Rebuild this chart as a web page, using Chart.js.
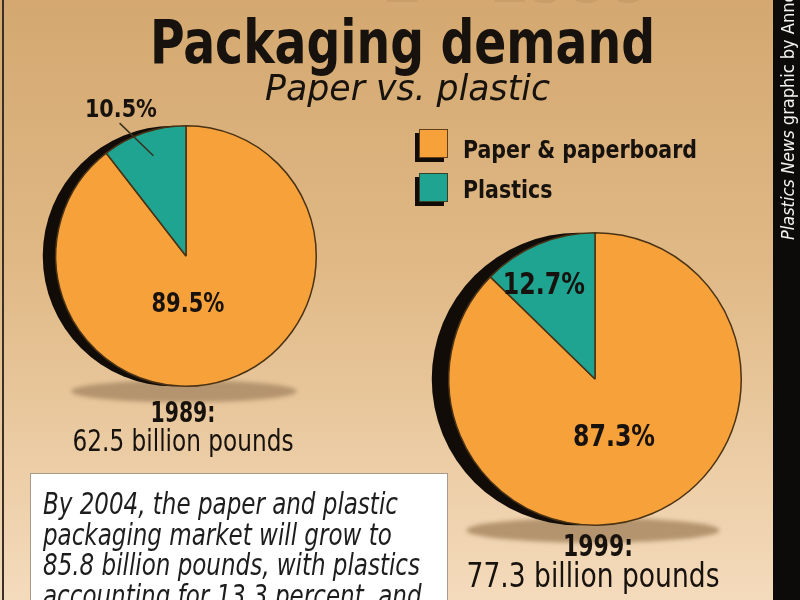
<!DOCTYPE html>
<html>
<head>
<meta charset="utf-8">
<script src="https://cdn.jsdelivr.net/npm/chart.js@4.4.1/dist/chart.umd.min.js"></script>
<style>
  html, body { margin: 0; padding: 0; width: 800px; height: 600px; overflow: hidden; background: #e2bc8c; }
  canvas { position: absolute; left: 0; top: 0; }
</style>
</head>
<body>
<canvas id="pie1989" width="800" height="600"></canvas>
<canvas id="pie1999" width="800" height="600"></canvas>
<script>
// Chart data
const categories = ['Paper & paperboard', 'Plastics'];
const share1989 = [89.5, 10.5];
const share1999 = [87.3, 12.7];
const yearLabels = ['1989:', '1999:'];
const totalLabels = ['62.5 billion pounds', '77.3 billion pounds'];
const sliceColors = ['#F7A13B', '#1FA492'];
const noteLines = [
    'By 2004, the paper and plastic',
    'packaging market will grow to',
    '85.8 billion pounds, with plastics',
    'accounting for 13.3 percent, and'
];

const INK = '#17120d';
const FACE = '"Liberation Sans Narrow", "DejaVu Sans Condensed", "Liberation Sans", sans-serif';

function font(style, size) {
    return style + ' ' + size + 'px ' + FACE;
}

// horizontal scale that makes `text` exactly `width` wide
function scaleFor(ctx, text, fnt, width) {
    ctx.save();
    ctx.font = fnt;
    const w = ctx.measureText(text).width;
    ctx.restore();
    return width / w;
}

function drawText(ctx, text, x, y, fnt, sx, align, color) {
    ctx.save();
    ctx.font = fnt;
    ctx.fillStyle = color || INK;
    ctx.textAlign = 'left';
    ctx.textBaseline = 'alphabetic';
    const w = ctx.measureText(text).width * sx;
    let left = x;
    if (align === 'center') left = x - w / 2;
    if (align === 'right') left = x - w;
    ctx.translate(left, y);
    ctx.scale(sx, 1);
    ctx.fillText(text, 0, 0);
    ctx.restore();
    return w;
}

function fitText(ctx, text, x, y, width, fnt, align, color) {
    drawText(ctx, text, x, y, fnt, scaleFor(ctx, text, fnt, width), align, color);
}

/**
 * Page furniture: background, headings, legend, note box, credit strip
 */
const pageDecor = {
    id: 'pageDecor',
    beforeDraw(chart) {
        const ctx = chart.ctx;
        ctx.save();

        const g = ctx.createLinearGradient(0, 0, 0, 600);
        g.addColorStop(0, '#D4A870');
        g.addColorStop(0.45, '#E0B986');
        g.addColorStop(1, '#F4DBBC');
        ctx.fillStyle = g;
        ctx.fillRect(0, 0, 800, 600);

        // left rule
        ctx.fillStyle = '#3b3026';
        ctx.fillRect(2, 0, 2, 600);

        // faded, cut-off heading above the title
        fitText(ctx, '1 - 1999', 380, 2, 273, font('bold', 70), 'left', 'rgba(175,135,85,0.3)');

        fitText(ctx, 'Packaging demand', 150, 63, 505, font('bold', 60), 'left');
        fitText(ctx, 'Paper vs. plastic', 265, 100, 285, font('italic', 35), 'left');

        // legend
        const legendFont = font('bold', 24);
        const legendScale = scaleFor(ctx, categories[0], legendFont, 234);
        categories.forEach((name, i) => {
            const top = 129 + i * 44;
            ctx.fillStyle = '#120c08';
            ctx.fillRect(415, top + 4, 29, 29);
            ctx.fillStyle = sliceColors[i];
            ctx.fillRect(419, top, 29, 29);
            ctx.strokeStyle = 'rgba(60,40,15,0.8)';
            ctx.lineWidth = 1;
            ctx.strokeRect(419.5, top + 0.5, 28, 28);
            drawText(ctx, name, 463, 158 + i * 40, legendFont, legendScale, 'left');
        });

        // note box
        ctx.fillStyle = '#ffffff';
        ctx.fillRect(30, 473, 417, 150);
        ctx.strokeStyle = '#a89a8a';
        ctx.lineWidth = 1;
        ctx.strokeRect(30.5, 473.5, 417, 150);
        const noteFont = font('italic', 30);
        const noteScale = scaleFor(ctx, noteLines[2], noteFont, 377);
        noteLines.forEach((line, i) => {
            drawText(ctx, line, 43, 514 + i * 30.5, noteFont, noteScale, 'left', '#1d1d1d');
        });

        // credit strip
        ctx.fillStyle = '#0d0b0a';
        ctx.fillRect(773, 0, 27, 600);
        ctx.translate(794, 240);
        ctx.rotate(-Math.PI / 2);
        ctx.fillStyle = '#f2f2f2';
        ctx.font = font('italic', 18);
        ctx.textBaseline = 'alphabetic';
        const w1 = ctx.measureText('Plastics News').width;
        ctx.fillText('Plastics News', 0, 0);
        ctx.font = font('normal', 18);
        ctx.fillText(' graphic by Annette McCauley', w1, 0);

        ctx.restore();
    }
};

/**
 * Per-pie decoration: floor shadow, black rim, slice labels, caption
 */
const pieDecor = {
    id: 'pieDecor',
    beforeDatasetsDraw(chart, args, opts) {
        const ctx = chart.ctx;
        const arc = chart.getDatasetMeta(0).data[0];
        const { x, y, outerRadius: r } = arc.getProps(['x', 'y', 'outerRadius'], true);
        ctx.save();
        ctx.filter = 'blur(2px)';
        ctx.fillStyle = '#b3946e';
        ctx.beginPath();
        ctx.ellipse(x - 2, y + r + 5, r * 0.865, r * 0.085, 0, 0, Math.PI * 2);
        ctx.fill();
        ctx.filter = 'none';
        ctx.fillStyle = '#120c08';
        ctx.beginPath();
        ctx.arc(x - opts.rimShift, y, r, 0, Math.PI * 2);
        ctx.fill();
        ctx.restore();
    },
    afterDatasetsDraw(chart, args, opts) {
        const ctx = chart.ctx;
        const arc = chart.getDatasetMeta(0).data[0];
        const { x, y, outerRadius: r } = arc.getProps(['x', 'y', 'outerRadius'], true);
        const values = chart.data.datasets[0].data;
        ctx.save();

        opts.labels.forEach(l => {
            fitText(ctx, values[l.index] + '%', x + l.dx * r, y + l.dy * r,
                    l.width, font('bold', l.size), 'center');
        });

        if (opts.leader) {
            ctx.strokeStyle = '#3a3020';
            ctx.lineWidth = 1.5;
            ctx.beginPath();
            ctx.moveTo(x + opts.leader[0] * r, y + opts.leader[1] * r);
            ctx.lineTo(x + opts.leader[2] * r, y + opts.leader[3] * r);
            ctx.stroke();
        }

        const c = opts.caption;
        fitText(ctx, c.year, x + c.yearDx, y + r + c.yearDy, c.yearWidth, font('bold', c.yearSize), 'center');
        fitText(ctx, c.total, x + c.totalDx, y + r + c.totalDy, c.totalWidth, font('normal', c.totalSize), 'center');

        ctx.restore();
    }
};

function makePie(canvasId, values, padding, decor, extraPlugins) {
    return new Chart(document.getElementById(canvasId), {
        type: 'pie',
        data: {
            labels: categories,
            datasets: [{
                data: values,
                backgroundColor: sliceColors,
                borderColor: '#4a3214',
                borderWidth: 1.5,
                hoverOffset: 0
            }]
        },
        options: {
            responsive: false,
            animation: false,
            events: [],
            layout: { padding: padding },
            plugins: {
                legend: { display: false },
                tooltip: { enabled: false },
                pieDecor: decor
            }
        },
        plugins: extraPlugins.concat([pieDecor])
    });
}

makePie('pie1989', share1989,
    { left: 55, top: 125, right: 483, bottom: 213 },
    {
        rimShift: 13,
        labels: [
            { index: 0, dx: 0.015, dy: 0.43, size: 27, width: 73 },
            { index: 1, dx: -0.5, dy: -1.07, size: 25, width: 72 }
        ],
        leader: [-0.51, -1.02, -0.25, -0.77],
        caption: {
            year: yearLabels[0], yearDx: -3, yearDy: 36, yearWidth: 65, yearSize: 29,
            total: totalLabels[0], totalDx: -3, totalDy: 65, totalWidth: 221, totalSize: 30
        }
    },
    [pageDecor]);

makePie('pie1999', share1999,
    { left: 448, top: 232, right: 58, bottom: 74 },
    {
        rimShift: 17,
        labels: [
            { index: 0, dx: 0.13, dy: 0.46, size: 30, width: 82 },
            { index: 1, dx: -0.35, dy: -0.58, size: 30, width: 82 }
        ],
        caption: {
            year: yearLabels[1], yearDx: 3, yearDy: 31, yearWidth: 70, yearSize: 30,
            total: totalLabels[1], totalDx: -2, totalDy: 62, totalWidth: 253, totalSize: 34
        }
    },
    []);
</script>
</body>
</html>
